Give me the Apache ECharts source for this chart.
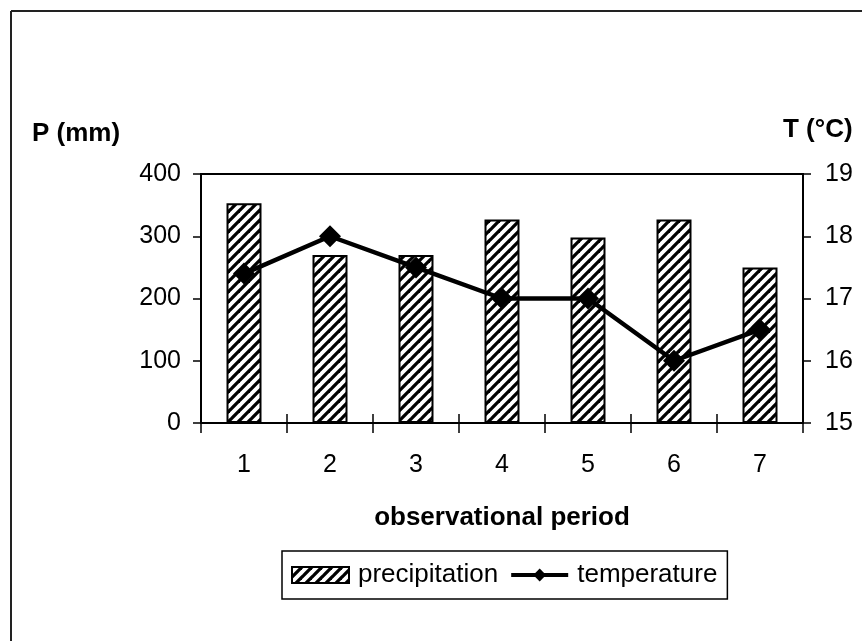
<!DOCTYPE html>
<html><head><meta charset="utf-8">
<script src="https://cdn.jsdelivr.net/npm/echarts@6/dist/echarts.min.js"></script>
<style>html,body{margin:0;padding:0;background:#fff}#c{width:862px;height:641px}</style>
</head><body><div id="c"></div>
<script>
const categories = ['1','2','3','4','5','6','7'];
const precipitation = [353, 270, 270, 327, 298, 327, 250];
const temperature = [17.4, 18, 17.5, 17, 17, 16, 16.5];
const pTicks = {min:0, max:400, interval:100};
const tTicks = {min:15, max:19, interval:1};

function hatch(){
  const n=10;
  const c=document.createElement('canvas'); c.width=n; c.height=n;
  const g=c.getContext('2d'); g.fillStyle='#fff'; g.fillRect(0,0,n,n);
  g.strokeStyle='#000'; g.lineWidth=3.3; g.lineCap='square';
  [[-3,n+3,n+3,-3],[-3,3,3,-3],[n-3,n+3,n+3,n-3]].forEach(s=>{g.beginPath();g.moveTo(s[0],s[1]);g.lineTo(s[2],s[3]);g.stroke();});
  return c;
}
const pat = {image: hatch(), repeat:'repeat'};
const F = '"Liberation Sans", Arial, sans-serif';
const chart = echarts.init(document.getElementById('c'), null, {renderer:'canvas'});
const axisLine = {show:true, lineStyle:{color:'#000', width:2}};
chart.setOption({
  animation:false,
  backgroundColor:'#fff',
  textStyle:{fontFamily:F, color:'#000'},
  grid:{left:201, right:59, top:174, bottom:218, show:true, borderColor:'#000', borderWidth:2, containLabel:false},
  legend:{
    left:282, top:551, padding:[11,10,11,9], itemGap:11,
    itemWidth:57, itemHeight:16,
    borderColor:'#000', borderWidth:1.5,
    textStyle:{fontFamily:F, fontSize:26, color:'#000', padding:[0,0,0,4]},
    data:[
      {name:'precipitation', icon:'rect'},
      {name:'temperature', lineStyle:{width:4, color:'#000'}}
    ]
  },
  xAxis:[{
    type:'category', data:categories, position:'bottom',
    axisLine:axisLine,
    axisTick:{show:true, inside:false, length:10, lineStyle:{color:'#000', width:1.5}},
    axisLabel:{fontFamily:F, fontSize:25, color:'#000', margin:30},
    name:'observational period', nameLocation:'middle', nameGap:82,
    nameTextStyle:{fontFamily:F, fontSize:26, fontWeight:'bold', color:'#000'}
  },{
    type:'category', data:categories, position:'bottom',
    axisLine:{show:false},
    axisTick:{show:true, inside:true, length:9, lineStyle:{color:'#000', width:1.5}},
    axisLabel:{show:false}
  }],
  yAxis:[{
    type:'value', position:'left', min:pTicks.min, max:pTicks.max, interval:pTicks.interval,
    axisLine:axisLine, splitLine:{show:false},
    axisTick:{show:true, inside:false, length:8, lineStyle:{color:'#000', width:1.5}},
    axisLabel:{fontFamily:F, fontSize:25, color:'#000', margin:20}
  },{
    type:'value', position:'right', min:tTicks.min, max:tTicks.max, interval:tTicks.interval,
    axisLine:axisLine, splitLine:{show:false},
    axisTick:{show:true, inside:false, length:8, lineStyle:{color:'#000', width:1.5}},
    axisLabel:{fontFamily:F, fontSize:25, color:'#000', margin:22}
  }],
  series:[{
    name:'precipitation', type:'bar', data:precipitation, xAxisIndex:0, yAxisIndex:0,
    barWidth:35, itemStyle:{color:pat, borderColor:'#000', borderWidth:2}
  },{
    name:'temperature', type:'line', data:temperature, xAxisIndex:0, yAxisIndex:1,
    symbol:'diamond', symbolSize:22,
    lineStyle:{color:'#000', width:4.5}, itemStyle:{color:'#000'}
  }],
  graphic:[
    {type:'line', shape:{x1:11,y1:11,x2:862,y2:11}, style:{stroke:'#222', lineWidth:2}},
    {type:'line', shape:{x1:11,y1:11,x2:11,y2:641}, style:{stroke:'#222', lineWidth:2}},
    {type:'text', left:32, top:121, style:{text:'P (mm)', font:'bold 26px '+F, fill:'#000'}},
    {type:'text', left:783, top:117, style:{text:'T (°C)', font:'bold 26px '+F, fill:'#000'}}
  ]
});
</script></body></html>
